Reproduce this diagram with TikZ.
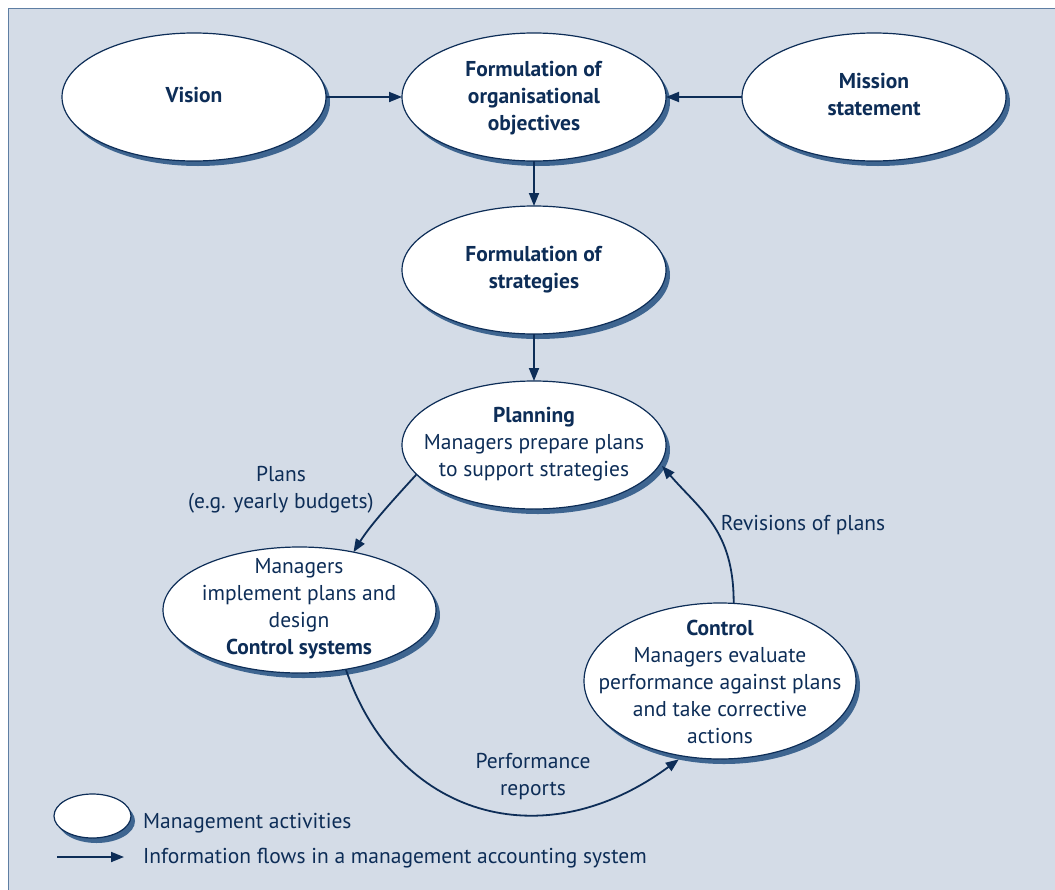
\documentclass[tikz,border=0pt]{standalone}
\usepackage{fontspec}
\setmainfont{PT Sans}
\usetikzlibrary{shadows,arrows.meta,shapes.geometric}
\definecolor{bg}{HTML}{D4DCE7}
\definecolor{navy}{HTML}{0D2D57}
\definecolor{shad}{HTML}{3E6590}
\definecolor{framec}{HTML}{5F7EA3}
\begin{document}
\begin{tikzpicture}[x=1pt,y=-1pt,
  every node/.style={text=navy, font=\fontsize{21.5}{27}\selectfont},
  act/.style={ellipse, draw=navy, line width=1.2pt, fill=white, inner sep=0pt, outer sep=0pt,
    drop shadow={shadow xshift=4pt, shadow yshift=-5pt, fill=shad, opacity=1}},
  big/.style={act, minimum width=264pt, minimum height=128pt},
  flow/.style={draw=navy, line width=1.8pt, -{Triangle[length=13pt,width=10pt]}},
  txt/.style={align=center, inner sep=0pt},
  ]
\useasboundingbox (0,0) rectangle (1055,889);
\fill[white] (0,0) rectangle (1055,889);
\draw[fill=bg, draw=framec, line width=0.8pt] (8,8) rectangle (1062,896);

\node[big] (vis) at (194,97) {};
\node[big] (obj) at (534,97) {};
\node[big] (mis) at (874,97) {};
\node[big] (str) at (534,270) {};
\node[big] (pla) at (534,445) {};
\node[act, minimum width=273pt, minimum height=126pt] (imp) at (299.5,610) {};
\node[act, minimum width=272pt, minimum height=156pt] (con) at (720,681) {};

\node[txt] (vist) at (194,95) {\textbf{Vision}};
\node[txt] (objt) at (534,98) {\textbf{Formulation of}\\\textbf{organisational}\\\textbf{objectives}};
\node[txt] (mist) at (874,95) {\textbf{Mission}\\\textbf{statement}};
\node[txt] (strt) at (534,270) {\textbf{Formulation of}\\\textbf{strategies}};
\node[txt] (plat) at (534,444) {\textbf{Planning}\\Managers prepare plans\\to support strategies};
\node[txt] (impt) at (299,609) {Managers\\implement plans and\\design\\\textbf{Control systems}};
\node[txt] (cont) at (720,682) {\textbf{Control}\\Managers evaluate\\performance against plans\\and take corrective\\actions};

\draw[flow] (vis.east) -- (obj.west);
\draw[flow] (mis.west) -- (obj.east);
\draw[flow] (obj.south) -- (str.north);
\draw[flow] (str.south) -- (pla.north);
\draw[flow] (pla.194) .. controls (395,498) and (371,524) .. (imp.47);
\draw[flow] (imp.308) .. controls (396,816) and (542,860) .. ([yshift=-4pt]con.241);
\draw[flow] (con.80) .. controls (734,530) and (700,510) .. ([shift={(4pt,1pt)}]pla.350);

\node[txt] (lplans) at (281,490) {Plans\\(e.g. yearly budgets)};
\node[txt] (lrev) at (803,525) {Revisions of plans};
\node[txt] (lperf) at (533,777) {Performance\\reports};

\node[act, minimum width=77pt, minimum height=44pt] (lg) at (92.5,816) {};
\node[anchor=base west, inner sep=0pt] (lgt) at (143,828) {Management activities};
\coordinate (la) at (57,857);
\coordinate (lb) at (124,857);
\draw[flow] (la) -- (lb);
\node[anchor=base west, inner sep=0pt] (lft) at (143,863) {Information flows in a management accounting system};
\end{tikzpicture}
\end{document}
